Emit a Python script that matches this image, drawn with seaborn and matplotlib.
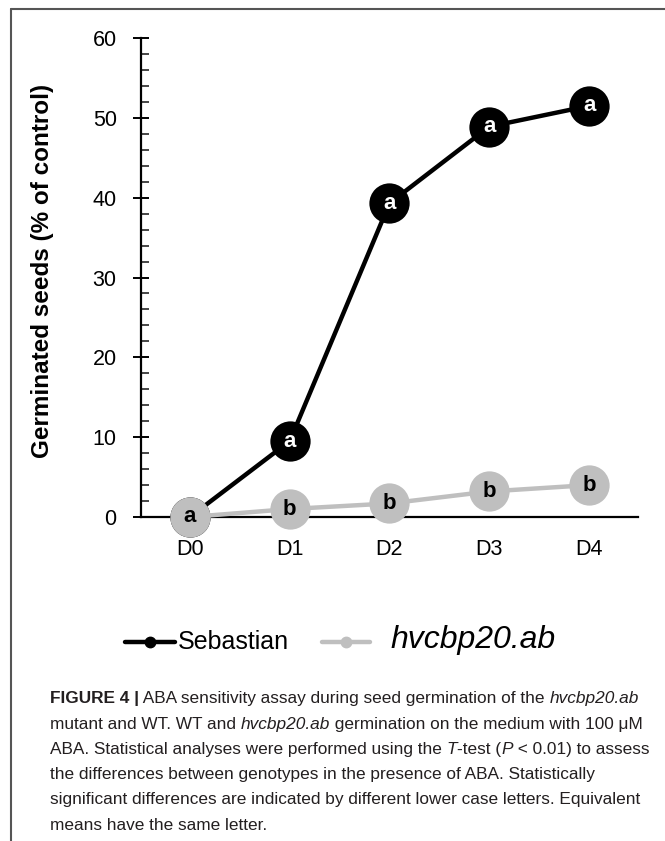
import numpy as np
import pandas as pd
import matplotlib
matplotlib.use("Agg")
import matplotlib.pyplot as plt
from matplotlib.lines import Line2D
from matplotlib.ticker import MultipleLocator
from matplotlib import font_manager
import seaborn as sns

days = ["D0", "D1", "D2", "D3", "D4"]
sebastian = [0.0, 9.5, 39.3, 48.9, 51.5]
mutant = [0.0, 1.0, 1.7, 3.2, 4.0]
letters_seb = ["a", "a", "a", "a", "a"]
letters_mut = ["a", "b", "b", "b", "b"]
series_names = ["Sebastian", "hvcbp20.ab"]
y_ticks = [0, 10, 20, 30, 40, 50, 60]

sns.set_theme(style="white")
plt.rcParams["font.family"] = ["Liberation Sans", "DejaVu Sans"]

df = pd.DataFrame({
    "day": days * 2,
    "value": sebastian + mutant,
    "genotype": [series_names[0]] * len(days) + [series_names[1]] * len(days),
})

W, H = 665, 841
fig = plt.figure(figsize=(W / 100, H / 100), dpi=100)
ax = fig.add_axes([141 / W, 1 - 517 / H, (638 - 141) / W, (517 - 38) / H])

GRAY = "#BFBFBF"
palette = {series_names[0]: "#000000", series_names[1]: GRAY}
sns.lineplot(data=df, x="day", y="value", hue="genotype", palette=palette,
             marker="o", markersize=29, markeredgewidth=0, linewidth=3.2,
             legend=False, ax=ax, clip_on=False, sort=False)
lines = ax.get_lines()
lines[0].set_zorder(3)
lines[1].set_zorder(5)

for i, (v, l) in enumerate(zip(sebastian, letters_seb)):
    ax.text(i, v, l, ha="center", va="center", color="white", fontsize=16,
            fontweight="bold", zorder=4)
for i, (v, l) in enumerate(zip(mutant, letters_mut)):
    ax.text(i, v, l, ha="center", va="center", color="black", fontsize=16,
            fontweight="bold", zorder=6)

ax.set_xlim(-0.49, 4.49)
ax.set_ylim(0, 60)
ax.set_yticks(y_ticks)
ax.yaxis.set_minor_locator(MultipleLocator(2))
ax.set_xlabel("")
ax.set_ylabel("")
for s in ["top", "right"]:
    ax.spines[s].set_visible(False)
for s in ["left", "bottom"]:
    ax.spines[s].set_color("black")
    ax.spines[s].set_linewidth(1.6)
ax.tick_params(axis="y", which="major", direction="inout", length=11, width=1.4,
               labelsize=15.5, left=True, pad=12, colors="black")
ax.tick_params(axis="y", which="minor", direction="in", length=5.5, width=1.2,
               left=True)
ax.tick_params(axis="x", which="both", length=0, labelsize=15.5, pad=16, colors="black")
ax.grid(False)

fig.text(43 / W, 1 - 271 / H, "Germinated seeds (% of control)", rotation=90,
         ha="center", va="center", fontsize=17.5, fontweight="bold", color="black")

# legend (manual, figure coordinates)
ly = 1 - 642 / H
fig.add_artist(Line2D([125 / W, 175 / W], [ly, ly], transform=fig.transFigure,
                      color="black", lw=3.2))
fig.add_artist(Line2D([150 / W], [ly], transform=fig.transFigure, color="black",
                      marker="o", markersize=7.5, lw=0))
fig.text(178 / W, ly, series_names[0], ha="left", va="center", fontsize=18,
         color="black")
fig.add_artist(Line2D([322 / W, 370 / W], [ly, ly], transform=fig.transFigure,
                      color=GRAY, lw=3.2))
fig.add_artist(Line2D([346 / W], [ly], transform=fig.transFigure, color=GRAY,
                      marker="o", markersize=7.5, lw=0))
fig.text(390 / W, ly + 2 / H, series_names[1], ha="left", va="center", fontsize=23,
         fontstyle="italic", color="black")

# frame lines
fig.add_artist(Line2D([11 / W, 1], [1 - 8.5 / H, 1 - 8.5 / H], transform=fig.transFigure,
                      color="#555555", lw=1.5))
fig.add_artist(Line2D([11 / W, 11 / W], [0, 1 - 8.5 / H], transform=fig.transFigure,
                      color="#555555", lw=1.5))

# caption
caption = [
    [("FIGURE 4 |", "bold"), (" ABA sensitivity assay during seed germination of the ", "normal"),
     ("hvcbp20.ab", "italic")],
    [("mutant and WT. WT and ", "normal"), ("hvcbp20.ab", "italic"),
     (" germination on the medium with 100 \u03bcM", "normal")],
    [("ABA. Statistical analyses were performed using the ", "normal"), ("T", "italic"),
     ("-test (", "normal"), ("P", "italic"), (" < 0.01) to assess", "normal")],
    [("the differences between genotypes in the presence of ABA. Statistically", "normal")],
    [("significant differences are indicated by different lower case letters. Equivalent", "normal")],
    [("means have the same letter.", "normal")],
]

cap_family = ["Liberation Sans", "DejaVu Sans"]
try:
    font_manager.findfont(font_manager.FontProperties(family="Liberation Sans Narrow"),
                          fallback_to_default=False)
    cap_family = ["Liberation Sans Narrow", "Liberation Sans", "DejaVu Sans"]
except Exception:
    pass

fig.canvas.draw()
renderer = fig.canvas.get_renderer()


def draw_line(segs, x, y, size, draw=True):
    arts = []
    for txt, sty in segs:
        kw = dict(fontsize=size, color="#231F20", va="center", ha="left",
                  family=cap_family)
        if sty == "bold":
            kw["fontweight"] = "bold"
        elif sty == "italic":
            kw["fontstyle"] = "italic"
        t = fig.text(x / W, 1 - y / H, txt, **kw)
        bb = t.get_window_extent(renderer=renderer)
        x += bb.width
        arts.append(t)
    if not draw:
        for t in arts:
            t.remove()
    return x


base = 12.0
end = draw_line(caption[0], 50, 699, base, draw=False)
size = base * (638 - 50) / (end - 50)
for li, segs in enumerate(caption):
    draw_line(segs, 50, 699 + li * 25.2, size)

fig.savefig("out.png", dpi=100)
